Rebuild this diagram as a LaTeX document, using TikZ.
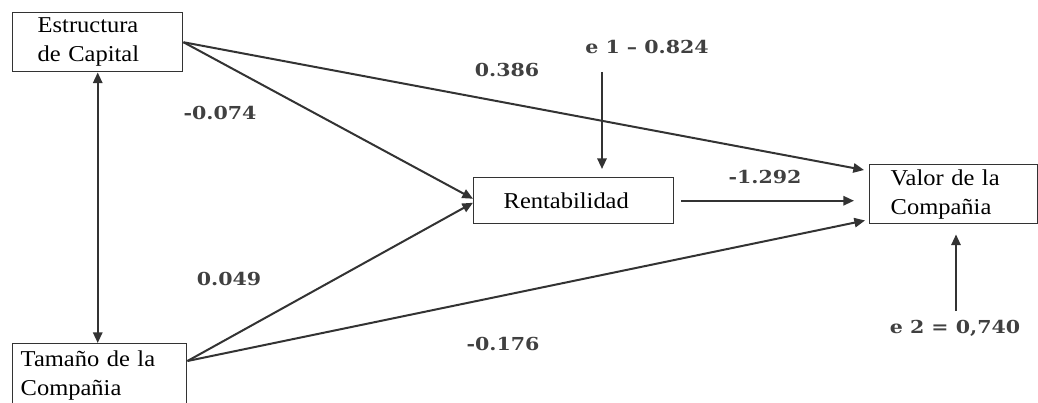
\documentclass[tikz,border=0pt]{standalone}
\usepackage{fontspec}
\setmainfont{Liberation Serif}[FakeStretch=1.08]
\newfontfamily\coeffont{DejaVu Serif}[FakeStretch=1.15]
\usetikzlibrary{positioning, arrows.meta, calc}

\tikzset{
    >={Triangle[length=8pt,width=7pt]},
    box/.style={draw=black!80, line width=1.1pt, anchor=north west, align=left,
        inner ysep=0pt, font=\fontsize{17}{21.5}\selectfont},
    link/.style={draw=black!80, line width=1.5pt, ->},
    coef/.style={font=\coeffont\bfseries\fontsize{13.4}{16}\selectfont, text=black!75},
}

\begin{document}
\begin{tikzpicture}[x=0.75pt, y=-0.75pt]
        \clip (0,0) rectangle (1038,403);

        % variables
        \node[box, inner xsep=18.75pt, text width=90pt, minimum height=44.25pt] (EC) at (12,12) {Estructura\\de Capital};
        \node[box, inner xsep=6pt, text width=118.5pt, minimum height=47.25pt] (TC) at (12,343) {Tamaño de la\\Compañia};
        \node[box, inner xsep=22.5pt, text width=105pt, minimum height=34.5pt] (Rent) at (473,177) {Rentabilidad};
        \node[box, inner xsep=15.75pt, text width=94.5pt, minimum height=44.25pt] (VC) at (869,164) {Valor de la\\Compañia};

        % error terms
        \node[coef] (e1) at (647,47) {e 1 – 0.824};
        \node[coef] (e2) at (955,328) {e 2 = 0,740};
        \coordinate (e1a) at (602,72);
        \coordinate (e2a) at (956,311);

        % paths
        \draw[link, <->] (EC.south) -- (EC.south |- TC.north);
        \draw[link] (EC.east) -- ([yshift=1.5pt]Rent.west);
        \draw[link] ([yshift=-13.5pt]TC.north east) -- ([yshift=-1.5pt]Rent.west);
        \draw[link] (EC.east) -- ([shift={(-3.75pt,-4.5pt)}]VC.north west);
        \draw[link] ([yshift=-13.5pt]TC.north east) -- ([shift={(-3pt,3pt)}]VC.south west);
        \draw[link] ([xshift=5pt]Rent.east) -- ($(Rent.east -| VC.west)+(-15,0)$);
        \draw[link] (e1a) -- ($(e1a |- Rent.north)+(0,-8)$);
        \draw[link] (e2a) -- ($(e2a |- VC.south)+(0,10)$);

        % coefficients
        \node[coef] (c1) at (220,113) {-0.074};
        \node[coef] (c2) at (507,70) {0.386};
        \node[coef] (c3) at (765,177) {-1.292};
        \node[coef] (c4) at (229,279) {0.049};
        \node[coef] (c5) at (503,344) {-0.176};
\end{tikzpicture}
\end{document}
